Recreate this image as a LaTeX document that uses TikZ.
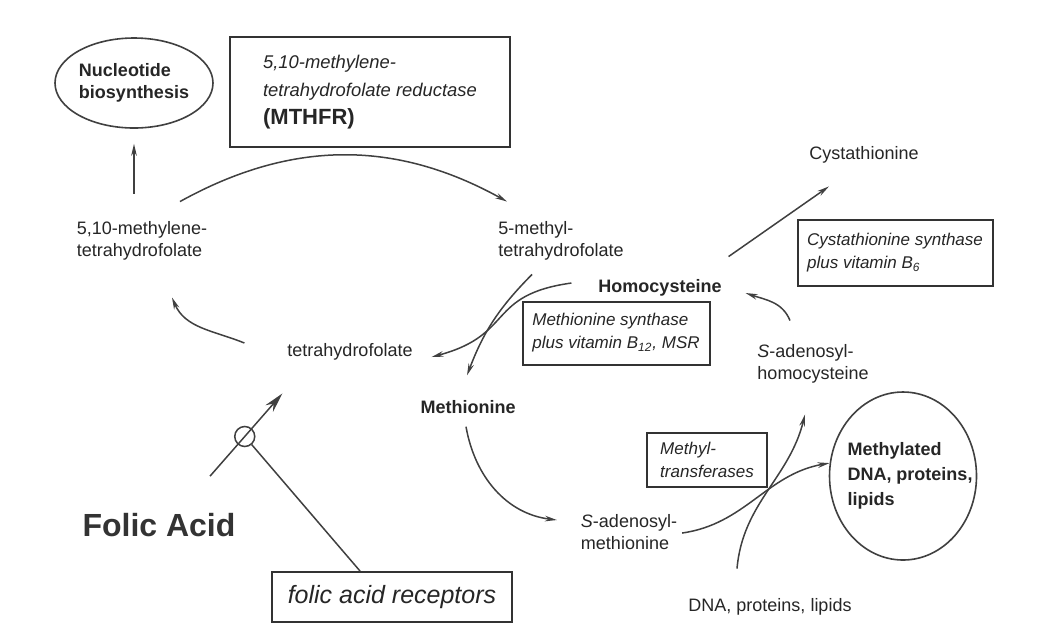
\documentclass[tikz,border=0pt]{standalone}
\usepackage{fontspec}
\setmainfont{Liberation Sans}
\usetikzlibrary{shapes.geometric,arrows.meta}

\begin{document}
\begin{tikzpicture}
[
x=0.5pt, y=0.5pt,
line-a/.style={draw=black!75, line width=0.75pt},
arr-a/.style={line-a, -{Stealth[length=6pt,width=2.8pt]}},
arr-b/.style={line-a, -{Stealth[length=10pt,width=5pt]}},
ellipse-a/.style={ellipse, draw=black!75, line width=0.8pt, inner sep=0pt},
circ-a/.style={circle, draw=black!75, line width=0.75pt, minimum size=10pt, inner sep=0pt},
box-a/.style={rectangle, draw=black!80, line width=1pt, text=black!85, align=left, font=\fontsize{8.5}{11.5}\selectfont\itshape},
text-a/.style={text=black!85, align=left, font=\fontsize{9}{11}\selectfont},
text-b/.style={text=black!85, align=left, font=\fontsize{9}{11}\selectfont\bfseries}
]
\fill [white] (0,0) rectangle (1052,-639);
\useasboundingbox (0,0) rectangle (1052,-639);

\node (nucl)     [ellipse-a, text-b, minimum width=79pt, minimum height=45pt] at (134,-83)  {Nucleotide\\biosynthesis};
\node (mthfr)    [box-a, minimum width=140pt, minimum height=55pt, font=\fontsize{9.2}{14}\selectfont\itshape] at (370,-92)
                 {5,10-methylene-\\tetrahydrofolate reductase\\{\upshape\bfseries\fontsize{11}{14}\selectfont (MTHFR)}};
\node (mlt)      [text-a]                                          at (142,-241) {5,10-methylene-\\tetrahydrofolate};
\node (mth)      [text-a]                                          at (561,-241) {5-methyl-\\tetrahydrofolate};
\node (thf)      [text-a]                                          at (350,-352) {tetrahydrofolate};
\node (hcy)      [text-b]                                          at (660,-288) {Homocysteine};
\node (ms)       [box-a, minimum width=93.5pt, minimum height=31.5pt] at (616,-333) {Methionine synthase\\plus vitamin B\textsubscript{12}, MSR};
\node (cys)      [text-a]                                          at (864,-155) {Cystathionine};
\node (cs)       [box-a, minimum width=97.5pt, minimum height=33pt]   at (895,-253) {Cystathionine synthase\\plus vitamin B\textsubscript{6}};
\node (sah)      [text-a]                                          at (813,-364) {\textit{S}-adenosyl-\\homocysteine};
\node (met)      [text-b]                                          at (468,-407) {Methionine};
\node (sam)      [text-a]                                          at (629,-532) {\textit{S}-adenosyl-\\methionine};
\node (mtr)      [box-a, minimum width=60pt, minimum height=27pt]     at (707,-460) {Methyl-\\transferases};
\node (mdna)     [ellipse-a, minimum width=73.5pt, minimum height=84pt] at (903,-476) {};
\node (mdna-txt) [text-b, font=\fontsize{9}{12.5}\selectfont\bfseries] at (910,-476) {Methylated\\DNA, proteins,\\lipids};
\node (dna)      [text-a]                                          at (770,-607) {DNA, proteins, lipids};
\node (folic)    [text-b, text=black!80, font=\fontsize{16}{19}\selectfont\bfseries] at (159,-525) {Folic Acid};
\node (rcp)      [box-a, minimum width=120pt, minimum height=25pt, font=\fontsize{12.5}{15}\selectfont\itshape] at (392,-597) {folic acid receptors};

% folate cycle
\draw [arr-a, shorten <=10.5pt, shorten >=7.5pt] (nucl.south |- mlt.north) -- (nucl.south);
\draw [arr-a] ([shift={(38,13)}]mlt.north) to [bend left=29] ([shift={(-54,13)}]mth.north);
\draw [arr-a] ([shift={(-36,9)}]thf.west) to [out=158, in=-67] ([shift={(30,-30)}]mlt.south);
\draw [arr-a] ([shift={(-29,-7)}]mth.south) to [bend right=12] ([shift={(-1,18)}]met.north);
\draw [arr-a] ([shift={(-20,5)}]hcy.west) to [out=188, in=15, looseness=1.4] ([shift={(12,-5)}]thf.east);
% methionine cycle
\draw [arr-a] ([shift={(0,16)}]hcy.north east) -- ([shift={(26.5,-16)}]cys.south west);
\draw [arr-a] ([shift={(-23,17)}]sah.north) to [out=112, in=-19] ([shift={(17,-5)}]hcy.east);
\draw [arr-a] ([shift={(-2,-6)}]met.south) to [out=280, in=173] ([shift={(-17,12)}]sam.west);
\draw [arr-a] ([shift={(-2,-1)}]sam.east) to [out=8, in=190] (mdna.170);
\draw [arr-a] ([shift={(-33,23)}]dna.north) to [out=85, in=-104] ([shift={(-8,-24)}]sah.south);
% uptake
\draw [arr-b] ([shift={(51,30)}]folic.north) -- node [circ-a, pos=0.48] (circ) {} ([shift={(2,-26)}]thf.south west);
\draw [line-a] (circ) -- ([shift={(-32,0)}]rcp.north);
\end{tikzpicture}
\end{document}
